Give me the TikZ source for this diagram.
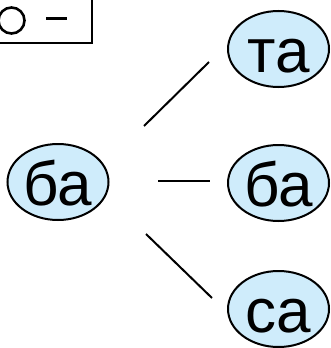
\documentclass[tikz,border=0pt]{standalone}
\usepackage{fontspec}
\setmainfont{Liberation Sans}
\definecolor{bub}{RGB}{207,236,251}
\usetikzlibrary{shapes.geometric}
\newcommand{\sylb}[1]{\raisebox{-23pt}[0pt][0pt]{#1}}
\tikzset{
  syl/.style={ellipse,draw=black,line width=2pt,fill=bub,minimum width=101pt,minimum height=76pt,inner sep=0pt,text=black,font=\fontsize{62}{62}\selectfont},
  link/.style={draw=black,line width=2pt}
}
\begin{document}
\begin{tikzpicture}[x=1pt,y=-1pt]
\useasboundingbox (0,0) rectangle (330,348);
\fill[white] (0,0) rectangle (330,348);
\clip (0,0) rectangle (330,348);
\coordinate (bl) at (-5,43);
\coordinate (br) at (92,43);
\coordinate (tr) at (92,-5);
\draw[link] (bl) -- (br) -- (tr);
\node[circle,draw=black,line width=2.6pt,minimum size=26pt,inner sep=0pt] (ring) at (11.5,20.5) {};
\coordinate (d1) at (46,18.5);
\coordinate (d2) at (67,18.5);
\draw[link,line width=2.6pt] (d1) -- (d2);
\node[syl] (ba) at (58,182) {\sylb{ба}};
\node[syl] (ta) at (278.5,49) {\sylb{та}};
\node[syl] (bb) at (278.5,183) {\sylb{ба}};
\node[syl] (sa) at (278.5,309) {\sylb{са}};
\coordinate (a1) at (144,126);
\coordinate (a2) at (209,62);
\coordinate (b1) at (158,181);
\coordinate (b2) at (210,181);
\coordinate (c1) at (146,234);
\coordinate (c2) at (212,298);
\draw[link] (a1) -- (a2);
\draw[link] (b1) -- (b2);
\draw[link] (c1) -- (c2);
\end{tikzpicture}
\end{document}
